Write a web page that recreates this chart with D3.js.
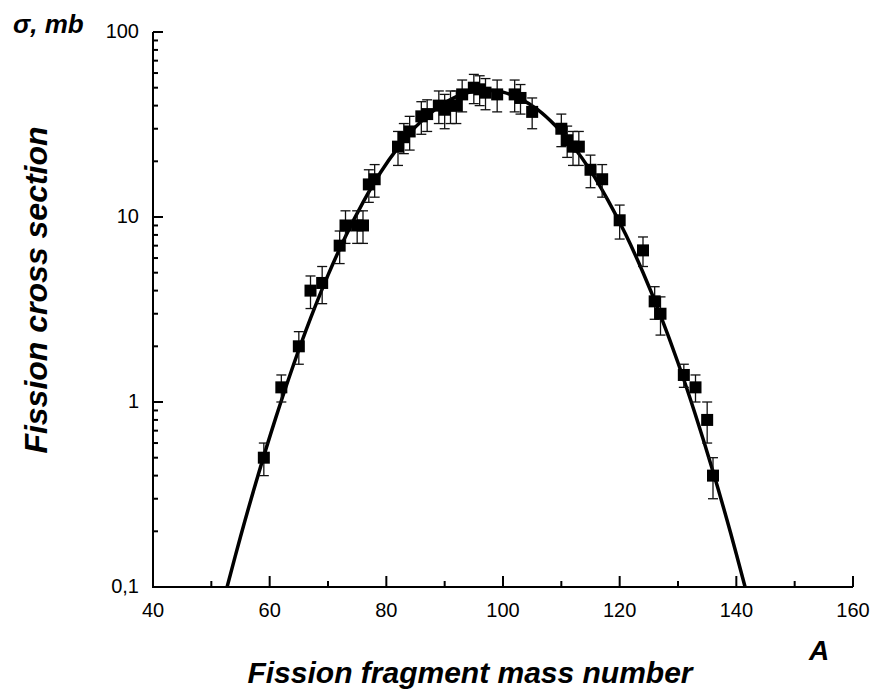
<!DOCTYPE html>
<html>
<head>
<meta charset="utf-8">
<script src="https://cdn.jsdelivr.net/npm/d3@7"></script>
<style>
  html, body { margin: 0; padding: 0; background: #fff; }
  svg { display: block; }
  text { font-family: "Liberation Sans", Arial, sans-serif; fill: #000; }
</style>
</head>
<body>
<svg id="chart" width="877" height="696"></svg>
<script>
// ---- data ----
const massNumber = [59, 62, 65, 67, 69, 72, 73, 75, 76, 77, 78, 82, 83, 84, 86, 87, 89, 90, 91, 92, 93, 95, 96, 97, 99, 102, 103, 105, 110, 111, 112, 113, 115, 117, 120, 124, 126, 127, 131, 133, 135, 136];
const crossSection = [0.5, 1.2, 2.0, 4.0, 4.4, 7.0, 9.0, 9.0, 9.0, 15, 16, 24, 27, 29, 35, 36, 40, 38, 40, 40, 46, 50, 49, 47, 46, 46, 44, 37, 30, 26, 24, 24, 18, 16, 9.6, 6.6, 3.5, 3.0, 1.4, 1.2, 0.8, 0.4];
const crossError = [0.1, 0.2, 0.4, 0.8, 1.0, 1.4, 1.8, 1.8, 1.8, 3, 3.2, 5, 5, 6, 7, 7, 8, 8, 8, 8, 9, 9, 9, 9, 9, 9, 8, 7, 6, 5, 5, 5, 3.6, 3.2, 2, 1.2, 0.7, 0.7, 0.2, 0.2, 0.2, 0.1];

// fitted curve
const fitA     = [52.7, 55, 58, 61, 64, 67, 70, 73, 76, 79, 82, 85, 88, 91, 94, 97, 100, 103, 106, 109, 112, 115, 118, 121, 124, 127, 130, 133, 136, 139, 141.5];
const fitSigma = [0.100, 0.187, 0.401, 0.813, 1.56, 2.83, 4.85, 7.85, 12.0, 17.4, 23.7, 30.7, 37.4, 43.2, 47.1, 48.5, 47.3, 43.5, 37.9, 31.1, 24.2, 17.8, 12.3, 8.09, 5.01, 2.94, 1.63, 0.851, 0.421, 0.197, 0.100];

const xTicksMajor = [40, 60, 80, 100, 120, 140, 160];
const xTicksMinor = [50, 70, 90, 110, 130, 150];
const yTicksMajor = [0.1, 1, 10, 100];
const yTickLabels = ["0,1", "1", "10", "100"];

// ---- layout ----
const svg = d3.select("#chart");
const mLeft = 153, mTop = 32, W = 700, H = 555;
const x = d3.scaleLinear().domain([40, 160]).range([mLeft, mLeft + W]);
const y = d3.scaleLog().domain([0.1, 100]).range([mTop + H, mTop]);

const yMinor = [];
[0.1, 1, 10].forEach(d => { for (let k = 2; k <= 9; k++) yMinor.push(d * k); });

// clip
svg.append("clipPath").attr("id", "plot").append("rect")
  .attr("x", mLeft).attr("y", mTop).attr("width", W).attr("height", H);

// curve
const pts = fitA.map((a, i) => [a, fitSigma[i]]);
svg.append("path")
  .attr("clip-path", "url(#plot)")
  .attr("d", d3.line().x(d => x(d[0])).y(d => y(d[1])).curve(d3.curveCatmullRom)(pts))
  .attr("fill", "none").attr("stroke", "#000").attr("stroke-width", 3.5);

// error bars
const data = massNumber.map((a, i) => ({ a, s: crossSection[i], e: crossError[i] }));
const eb = svg.append("g").attr("stroke", "#111").attr("stroke-width", 1.3);
data.forEach(d => {
  const cx = x(d.a), y1 = y(d.s + d.e), y0 = y(d.s - d.e);
  eb.append("line").attr("x1", cx).attr("x2", cx).attr("y1", y1).attr("y2", y0);
  eb.append("line").attr("x1", cx - 5).attr("x2", cx + 5).attr("y1", y1).attr("y2", y1);
  eb.append("line").attr("x1", cx - 5).attr("x2", cx + 5).attr("y1", y0).attr("y2", y0);
});

// squares
svg.append("g").selectAll("rect").data(data).join("rect")
  .attr("x", d => x(d.a) - 6).attr("y", d => y(d.s) - 6)
  .attr("width", 12).attr("height", 12).attr("fill", "#000");

// axes lines
const ax = svg.append("g").attr("stroke", "#000").attr("stroke-width", 2).attr("fill", "none");
ax.append("line").attr("x1", mLeft).attr("x2", mLeft).attr("y1", mTop).attr("y2", mTop + H + 1);
ax.append("line").attr("x1", mLeft - 1).attr("x2", mLeft + W).attr("y1", mTop + H).attr("y2", mTop + H);

// y ticks (inside)
yTicksMajor.forEach(v => ax.append("line").attr("x1", mLeft).attr("x2", mLeft + 10).attr("y1", y(v)).attr("y2", y(v)));
yMinor.forEach(v => ax.append("line").attr("x1", mLeft).attr("x2", mLeft + 5).attr("y1", y(v)).attr("y2", y(v)));
// x ticks (inside)
xTicksMajor.forEach(v => ax.append("line").attr("x1", x(v)).attr("x2", x(v)).attr("y1", mTop + H).attr("y2", mTop + H - 11));
xTicksMinor.forEach(v => ax.append("line").attr("x1", x(v)).attr("x2", x(v)).attr("y1", mTop + H).attr("y2", mTop + H - 6));

// tick labels
svg.append("g").selectAll("text").data(xTicksMajor).join("text")
  .attr("x", d => x(d)).attr("y", mTop + H + 30)
  .attr("text-anchor", "middle").attr("font-size", 20).text(d => d);
svg.append("g").selectAll("text").data(yTicksMajor).join("text")
  .attr("x", mLeft - 14).attr("y", d => y(d) + 6)
  .attr("text-anchor", "end").attr("font-size", 20).text((d, i) => yTickLabels[i]);

// titles
svg.append("text").attr("x", 470).attr("y", 683).attr("text-anchor", "middle")
  .attr("font-size", 30).attr("font-weight", "bold").attr("font-style", "italic")
  .text("Fission fragment mass number");
svg.append("text").attr("transform", "translate(47,290) rotate(-90)").attr("text-anchor", "middle")
  .attr("font-size", 32).attr("font-weight", "bold").attr("font-style", "italic")
  .text("Fission cross section");
svg.append("text").attr("x", 13).attr("y", 33)
  .attr("font-size", 26).attr("font-weight", "bold").attr("font-style", "italic")
  .text("σ, mb");
svg.append("text").attr("x", 809).attr("y", 660)
  .attr("font-size", 28).attr("font-weight", "bold").attr("font-style", "italic")
  .text("A");
</script>
</body>
</html>
